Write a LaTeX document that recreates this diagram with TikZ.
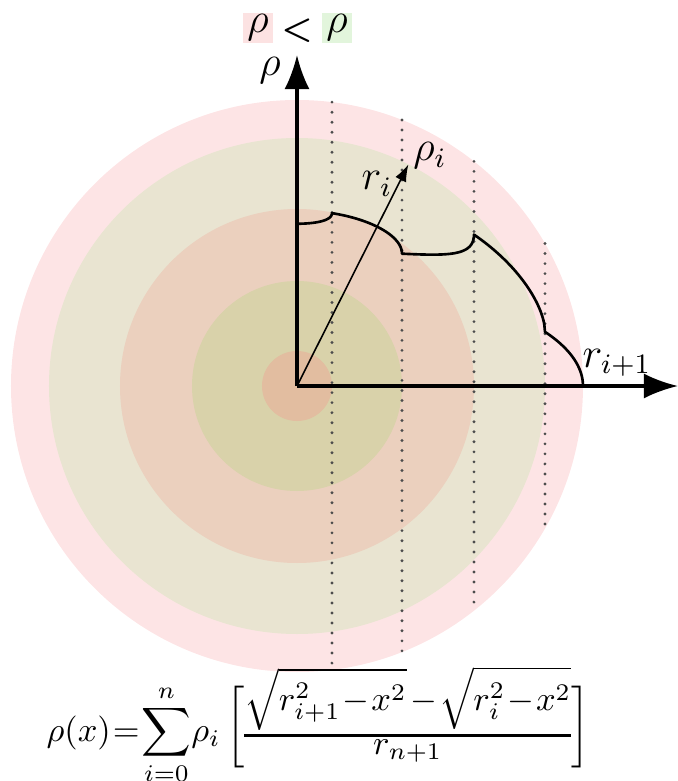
\documentclass[tikz,border=0pt]{standalone}
\usepackage{amsmath,bm}
\usetikzlibrary{arrows.meta}
\definecolor{shellout}{RGB}{253,228,229}
\definecolor{shelltan}{RGB}{233,228,209}
\definecolor{shellsalmon}{RGB}{235,208,190}
\definecolor{shellgreen}{RGB}{217,210,170}
\definecolor{shellcore}{RGB}{226,189,160}
\definecolor{swatchpink}{RGB}{252,226,226}
\definecolor{swatchgreen}{RGB}{226,245,220}

\begin{document}
\begin{tikzpicture}[
  font=\large,
  axis/.style={line width=.9pt,-{Latex[length=3.4mm,width=2.5mm]}},
  radius arrow/.style={line width=.45pt,-{Latex[length=1.7mm,width=1.2mm]}},
  profile/.style={line width=.75pt,line join=round},
  chord/.style={line width=.9pt,dash pattern=on 0pt off 2.85pt,line cap=round,black!70},
  swatch/.style={minimum width=8.8pt,minimum height=8.8pt,inner sep=0pt},
  declare function={S(\t,\w)=sqrt(max(\t*\t-\w*\w,0));
    prof(\w)=0.38*(S(2.86,\w)+S(2.48,\w)-S(1.77,\w)+S(1.05,\w)-S(0.35,\w));}
]
\useasboundingbox (-2.97,-3.95) rectangle (3.81,3.86);
\coordinate (O) at (0,0);

% shells, outside in
\fill[shellout] (O) circle (2.86);
\fill[shelltan] (O) circle (2.48);
\fill[shellsalmon] (O) circle (1.77);
\fill[shellgreen] (O) circle (1.05);
\fill[shellcore] (O) circle (0.35);

% lines of sight
\foreach \k in {0.35,1.05,1.77,2.48}{
  \pgfmathsetmacro\h{sqrt(2.86*2.86-\k*\k)}
  \draw[chord] (\k,\h) -- (\k,-\h);
}

% projected profile
\draw[profile] plot[domain=0:0.35,samples=60] (\x,{prof(\x)})
  -- plot[domain=0.35:1.05,samples=100] (\x,{prof(\x)})
  -- plot[domain=1.05:1.77,samples=100] (\x,{prof(\x)})
  -- plot[domain=1.77:2.48,samples=100] (\x,{prof(\x)})
  -- plot[domain=2.48:2.86,samples=120] (\x,{prof(\x)});

\coordinate (ytip) at (0,3.31);
\coordinate (xtip) at (3.81,0);
\coordinate (rtip) at (63.3:2.48);
\draw[axis] (O) -- (ytip);
\draw[axis] (O) -- (xtip);
\draw[radius arrow] (O) -- (rtip);

\node (rholab) at (-0.27,3.15) {$\rho$};
\node (rilab) at (0.80,2.02) {$r_i$};
\node (rhoilab) at (1.33,2.30) {$\rho_i$};
\node (rnextlab) at (3.20,0.23) {$r_{i+1}$};

\node[swatch,fill=swatchpink] (low) at (-0.39,3.58) {$\rho$};
\node (less) at (0,3.55) {\normalsize$\bm{<}$};
\node[swatch,fill=swatchgreen] (high) at (0.40,3.58) {$\rho$};

\node[inner sep=0pt,anchor=south,xscale=0.98,yscale=0.97,transform shape] (formula) at (0.21,-3.96)
  {\normalsize\thickmuskip=1mu\medmuskip=1mu\nulldelimiterspace=0pt
   $\fontdimen13\textfont3=0pt\displaystyle \rho(x)=\sum_{i=0}^{n}\!\rho_i\,\raisebox{1.5pt}{$\biggl[$}\genfrac{}{}{0.9pt}{2}{\displaystyle\sqrt{r_{i+1}^2-x^2}\;-\sqrt{r_i^2-x^2}}{\displaystyle r_{n+1}}\raisebox{1.5pt}{$\biggr]$}$};
\end{tikzpicture}
\end{document}
